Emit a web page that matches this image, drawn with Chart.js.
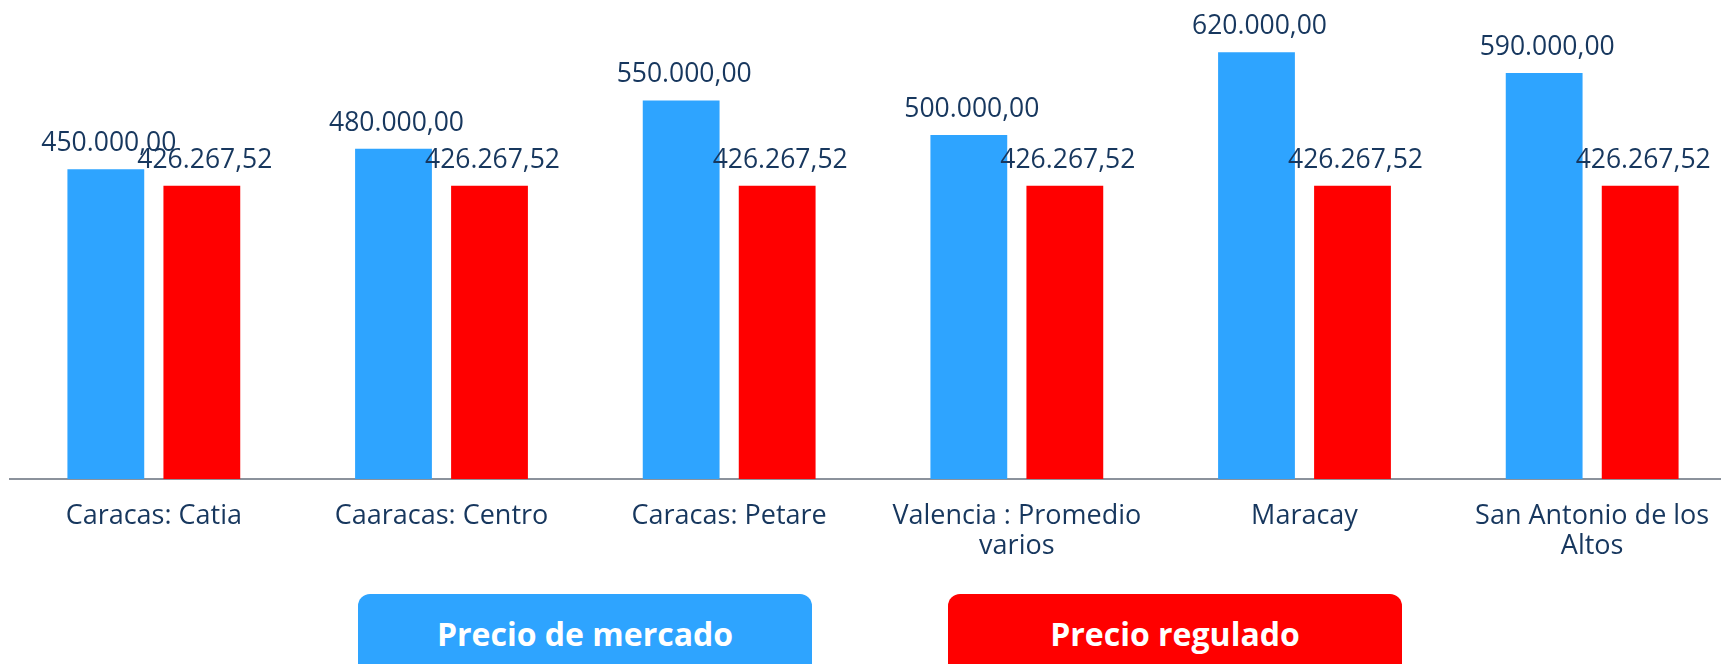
<!DOCTYPE html>
<html>
<head>
<meta charset="utf-8">
<script src="https://cdn.jsdelivr.net/npm/chart.js@4"></script>
<style>
  html, body { margin: 0; padding: 0; background: #fff; overflow: hidden; }
  #wrap { position: relative; width: 1721px; height: 664px; overflow: hidden; }
  #legend .item {
    position: absolute; top: 594px; width: 454px; height: 100px;
    border-radius: 12px; color: #fff; text-align: center;
    font-family: "Open Sans", sans-serif; font-weight: 700; font-size: 32px;
    line-height: 32px; padding-top: 24px; box-sizing: border-box;
  }
</style>
</head>
<body>
<div id="wrap">
  <canvas id="chart" width="1736" height="664"></canvas>
  <div id="legend"></div>
</div>
<script>
const categories = [
  "Caracas: Catia",
  "Caaracas: Centro",
  "Caracas: Petare",
  ["Valencia : Promedio", "varios"],
  "Maracay",
  ["San Antonio de los", "Altos"]
];
const mercado = [450000, 480000, 550000, 500000, 620000, 590000];
const regulado = [426267.52, 426267.52, 426267.52, 426267.52, 426267.52, 426267.52];

const navy = "#17375E";

function fmt(v) {
  const parts = v.toFixed(2).split(".");
  return parts[0].replace(/\B(?=(\d{3})+(?!\d))/g, ".") + "," + parts[1];
}

// value labels above each bar
const barLabels = {
  id: "barLabels",
  afterDatasetsDraw(chart) {
    const ctx = chart.ctx;
    ctx.save();
    ctx.font = '26.5px "Open Sans", sans-serif';
    ctx.fillStyle = navy;
    ctx.textAlign = "center";
    ctx.textBaseline = "alphabetic";
    chart.data.datasets.forEach((ds, i) => {
      chart.getDatasetMeta(i).data.forEach((bar, j) => {
        ctx.fillText(fmt(ds.data[j]), bar.x + 3, bar.y - 18);
      });
    });
    ctx.restore();
  }
};

const chart = new Chart(document.getElementById("chart").getContext("2d"), {
  type: "bar",
  data: {
    labels: categories,
    datasets: [
      {
        label: "Precio de mercado",
        data: mercado,
        backgroundColor: "#2EA4FF",
        categoryPercentage: 0.6675,
        barPercentage: 0.8,
      },
      {
        label: "Precio regulado",
        data: regulado,
        backgroundColor: "#FF0000",
        categoryPercentage: 0.6675,
        barPercentage: 0.8,
      },
    ],
  },
  options: {
    responsive: false,
    animation: false,
    layout: { padding: { left: 10, right: 0, top: 0, bottom: 0 } },
    plugins: {
      legend: { display: false },
      tooltip: { enabled: false },
    },
    scales: {
      x: {
        grid: { display: false, drawTicks: false },
        border: { display: true, color: "#8B929C", width: 2 },
        ticks: {
          color: navy,
          padding: 22,
          maxRotation: 0,
          autoSkip: false,
          font: { family: '"Open Sans", sans-serif', size: 27, lineHeight: 1.12 },
        },
        afterFit(scale) {
          scale.height = 185;
        },
      },
      y: {
        display: false,
        min: 0,
        max: 696000,
      },
    },
  },
  plugins: [barLabels],
});

// legend boxes below the chart
const legend = document.getElementById("legend");
const lefts = [358, 948];
chart.data.datasets.forEach((ds, i) => {
  const item = document.createElement("div");
  item.className = "item";
  item.style.left = lefts[i] + "px";
  item.style.background = ds.backgroundColor;
  item.textContent = ds.label;
  legend.appendChild(item);
});
</script>
</body>
</html>
